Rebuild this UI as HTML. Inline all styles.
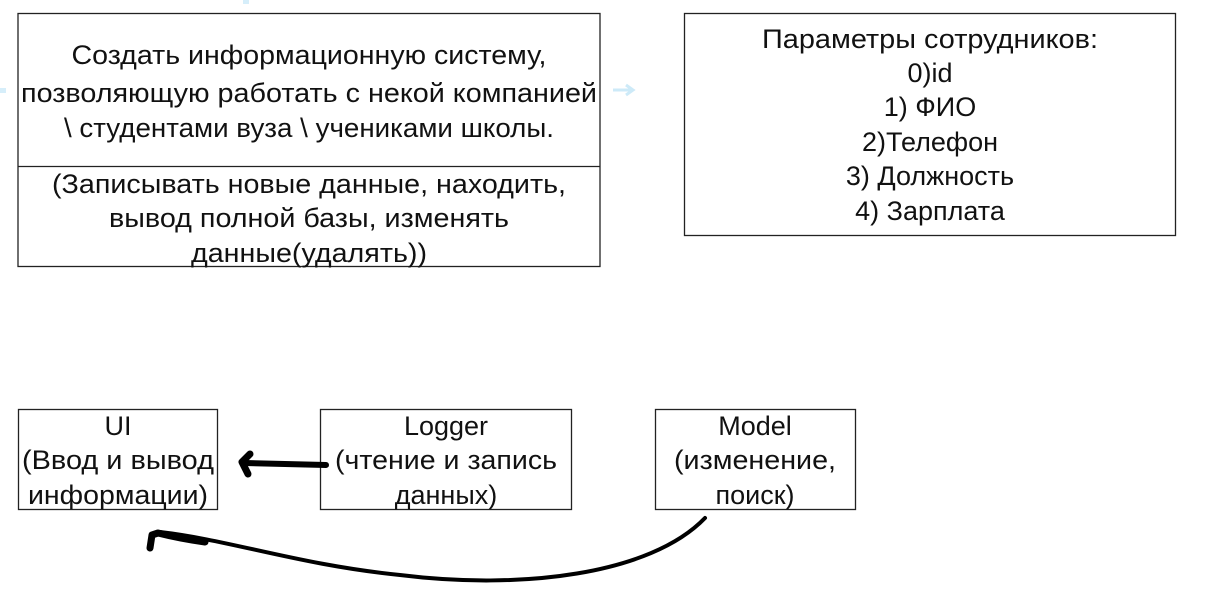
<!DOCTYPE html>
<html><head><meta charset="utf-8"><style>
body{margin:0;background:#fff;width:1206px;height:598px;overflow:hidden}
svg text{font-family:"Liberation Sans","Noto Sans CJK SC",sans-serif;font-size:27px;fill:#111;text-anchor:middle}
</style></head><body>
<svg width="1206" height="598" xmlns="http://www.w3.org/2000/svg">
<rect x="243" y="0" width="6" height="4" fill="#d6eefa"/>
<rect x="0" y="88" width="6" height="5" fill="#d6eefa"/>
<path d="M613 90 H632 M626 85 L633 90 L626 95" stroke="#cdeaf8" stroke-width="3" fill="none"/>
<g fill="none" stroke="#222" stroke-width="1.3">
<rect x="18" y="13.5" width="582" height="253"/>
<line x1="18" y1="166.5" x2="600" y2="166.5"/>
<rect x="684.5" y="13.5" width="491" height="222"/>
<rect x="18.5" y="409.5" width="199" height="100"/>
<rect x="320.5" y="409.5" width="251" height="100"/>
<rect x="655.5" y="409.5" width="200" height="100"/>
</g>
<g>
<text x="309" y="64" textLength="475" lengthAdjust="spacingAndGlyphs">Создать информационную систему,</text>
<text x="309" y="102" textLength="576" lengthAdjust="spacingAndGlyphs">позволяющую работать с некой компанией</text>
<text x="309" y="137" textLength="490" lengthAdjust="spacingAndGlyphs">\ студентами вуза \ учениками школы.</text>
<text x="309" y="193" textLength="514" lengthAdjust="spacingAndGlyphs">(Записывать новые данные, находить,</text>
<text x="309" y="227" textLength="400" lengthAdjust="spacingAndGlyphs">вывод полной базы, изменять</text>
<text x="309" y="262" textLength="236" lengthAdjust="spacingAndGlyphs">данные(удалять))</text>
<text x="930" y="48" textLength="336" lengthAdjust="spacingAndGlyphs">Параметры сотрудников:</text>
<text x="930" y="82">0)id</text>
<text x="930" y="116">1) ФИО</text>
<text x="930" y="151">2)Телефон</text>
<text x="930" y="185">3) Должность</text>
<text x="930" y="220">4) Зарплата</text>
<text x="118" y="435">UI</text>
<text x="118" y="469" textLength="192" lengthAdjust="spacingAndGlyphs">(Ввод и вывод</text>
<text x="118" y="504" textLength="180" lengthAdjust="spacingAndGlyphs">информации)</text>
<text x="446" y="435">Logger</text>
<text x="446" y="469" textLength="222" lengthAdjust="spacingAndGlyphs">(чтение и запись</text>
<text x="446" y="504">данных)</text>
<text x="755" y="435">Model</text>
<text x="755" y="469" textLength="162" lengthAdjust="spacingAndGlyphs">(изменение,</text>
<text x="755" y="504">поиск)</text>
</g>
<g fill="none" stroke="#000" stroke-linecap="round" stroke-linejoin="round">
<path d="M326 465 L245 463" stroke-width="6"/>
<path d="M250 454 L242 462 L248 474" stroke-width="7"/>
<path d="M705 518 C650 575 520 590 400 575 C300 565 230 540 160 532" stroke-width="4"/>
<path d="M205 542 C190 540 170 536 158 533 L152 535 L150 548" stroke-width="7"/>
</g>
</svg>
</body></html>
